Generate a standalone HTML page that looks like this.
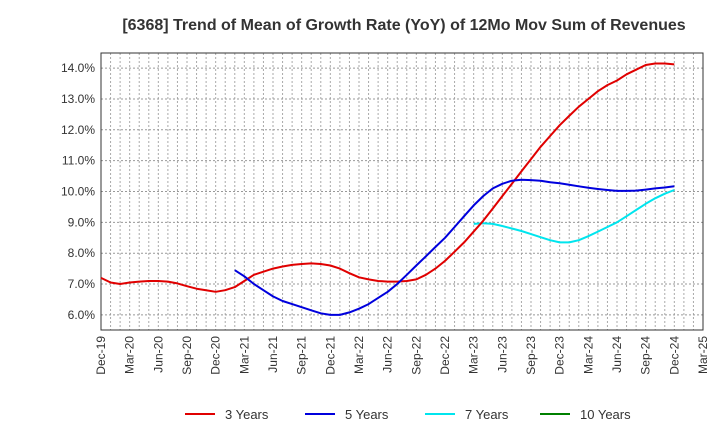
<!DOCTYPE html>
<html><head><meta charset="utf-8"><style>
body{margin:0;background:#fff;font-family:"Liberation Sans",sans-serif}
</style></head><body>
<svg id="chart" width="720" height="440" xmlns="http://www.w3.org/2000/svg">
<text x="404" y="30" text-anchor="middle" font-size="16" font-weight="bold" fill="#333">[6368]  Trend of Mean of Growth Rate (YoY) of 12Mo Mov Sum of Revenues</text>
<g id="grid"></g><g id="axes"></g><g id="series"></g><g id="legend"></g>
</svg>
<script>
const xLabels=["Dec-19","Mar-20","Jun-20","Sep-20","Dec-20","Mar-21","Jun-21","Sep-21","Dec-21","Mar-22","Jun-22","Sep-22","Dec-22","Mar-23","Jun-23","Sep-23","Dec-23","Mar-24","Jun-24","Sep-24","Dec-24","Mar-25"];
const yTicks=[6,7,8,9,10,11,12,13,14];
const seriesNames=["3 Years","5 Years","7 Years","10 Years"];
const seriesColors=["#e00000","#0000dd","#00e5ee","#008000"];
const s3Start=0;
const s3=[7.2,7.05,7.0,7.05,7.08,7.1,7.1,7.08,7.02,6.93,6.85,6.8,6.75,6.8,6.9,7.1,7.3,7.4,7.5,7.57,7.62,7.65,7.67,7.65,7.6,7.5,7.35,7.22,7.15,7.1,7.08,7.08,7.1,7.15,7.3,7.5,7.75,8.05,8.35,8.7,9.05,9.45,9.85,10.25,10.65,11.05,11.45,11.8,12.15,12.45,12.75,13.0,13.25,13.45,13.6,13.8,13.95,14.1,14.15,14.15,14.12];
const s5Start=14;
const s5=[7.45,7.25,7.0,6.8,6.6,6.45,6.35,6.25,6.15,6.05,6.0,6.0,6.08,6.2,6.35,6.55,6.75,7.0,7.3,7.6,7.9,8.2,8.5,8.85,9.2,9.55,9.85,10.1,10.25,10.35,10.38,10.37,10.35,10.3,10.27,10.22,10.17,10.12,10.08,10.05,10.02,10.02,10.03,10.06,10.1,10.13,10.17];
const s7Start=39;
const s7=[8.95,8.97,8.95,8.88,8.8,8.72,8.62,8.52,8.42,8.35,8.35,8.42,8.55,8.7,8.85,9.0,9.2,9.4,9.6,9.78,9.93,10.05];
const L=101,R=703,T=53,B=330,yMin=5.51,yMax=14.49,nMonths=63;
const X=m=>L+(R-L)*m/nMonths;
const Y=v=>B-(B-T)*(v-yMin)/(yMax-yMin);
const NS="http://www.w3.org/2000/svg";
function mk(p,tag,at){const e=document.createElementNS(NS,tag);for(const k in at)e.setAttribute(k,at[k]);p.appendChild(e);return e;}
const grid=document.getElementById('grid'),axes=document.getElementById('axes'),ser=document.getElementById('series'),leg=document.getElementById('legend');
for(let m=1;m<nMonths;m++){const g=mk(grid,'line',{x1:X(m),x2:X(m),y1:T,y2:B,stroke:'#aaa','stroke-dasharray':'2,2','stroke-width':1});

}
yTicks.forEach(v=>{const g=mk(grid,'line',{x1:L,x2:R,y1:Y(v),y2:Y(v),stroke:'#999','stroke-dasharray':'2,2','stroke-width':1});


const t=mk(axes,'text',{x:L-6,y:Y(v)+4,'text-anchor':'end','font-size':12,fill:'#333'});t.textContent=v.toFixed(1)+'%';

});
const fr=mk(axes,'rect',{x:L,y:T,width:R-L,height:B-T,fill:'none',stroke:'#333','stroke-width':1});


xLabels.forEach((l,i)=>{const x=X(i*3);const t=mk(axes,'text',{x:x+4,y:B+6,'text-anchor':'end','font-size':12,fill:'#333',transform:`rotate(-90 ${x+4} ${B+6})`});t.textContent=l;

});
function line(arr,start,color,name){const d=arr.map((v,i)=>(i?'L':'M')+X(start+i).toFixed(1)+','+Y(v).toFixed(1)).join('');
const p=mk(ser,'path',{d:d,fill:'none',stroke:color,'stroke-width':2,'stroke-linejoin':'round'});

}
line(s7,s7Start,seriesColors[2],'series-7-years');
line(s3,s3Start,seriesColors[0],'series-3-years');
line(s5,s5Start,seriesColors[1],'series-5-years');
const lx=[185,305,425,540];
seriesNames.forEach((n,i)=>{const g=mk(leg,'g',{});


mk(g,'line',{x1:lx[i],x2:lx[i]+30,y1:414,y2:414,stroke:seriesColors[i],'stroke-width':2});
const t=mk(g,'text',{x:lx[i]+40,y:419,'font-size':13,fill:'#333'});t.textContent=n;});
</script>
</body></html>
